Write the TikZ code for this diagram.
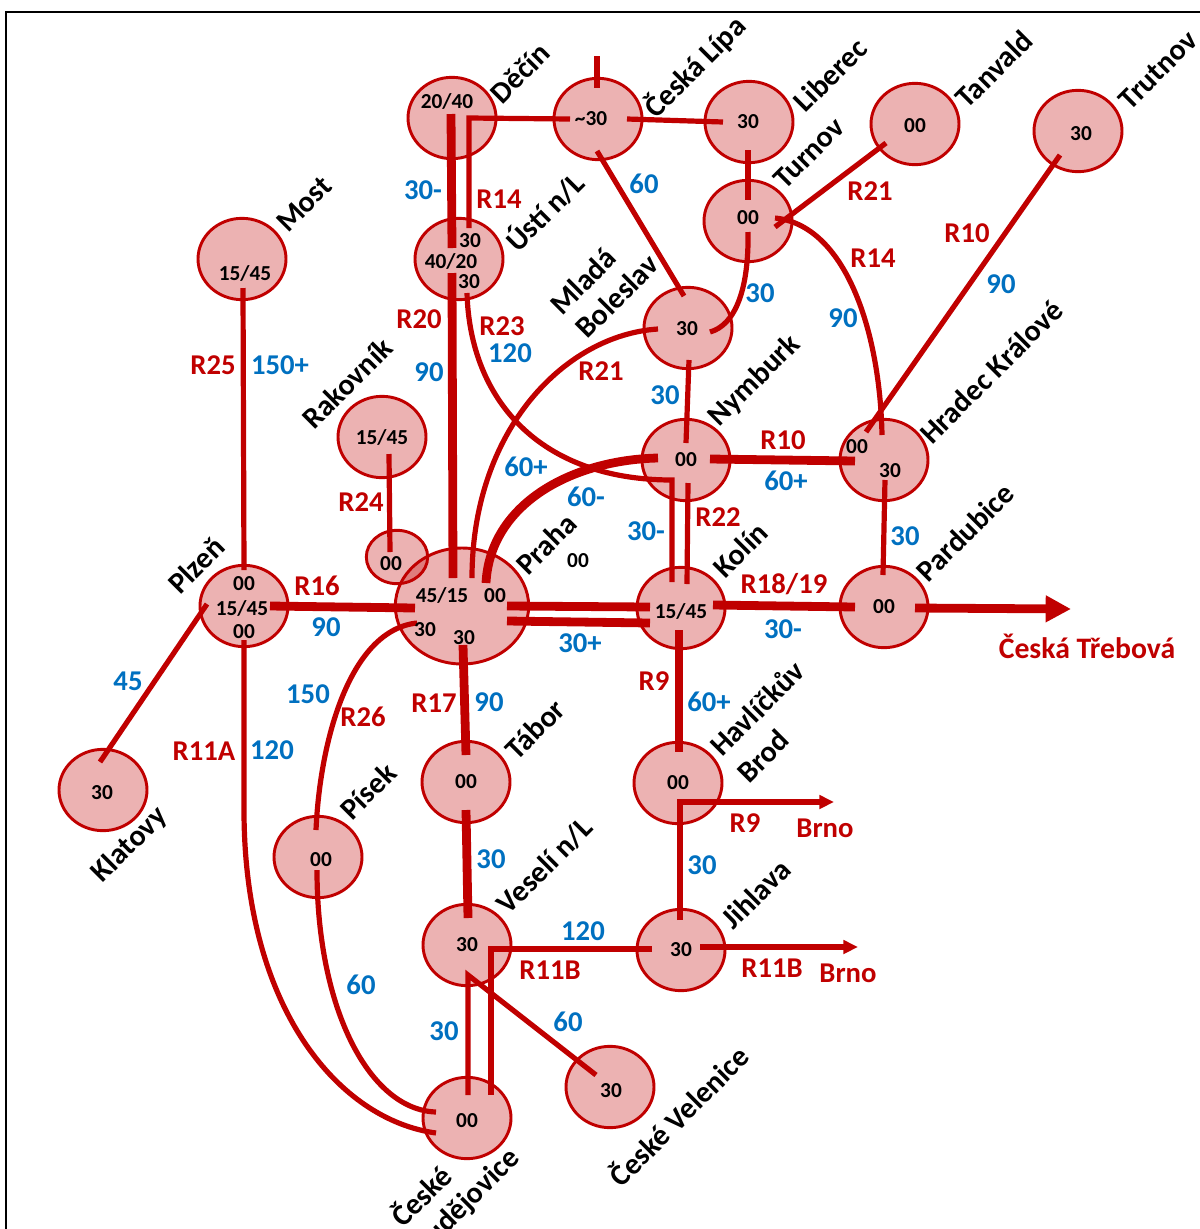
\documentclass[tikz,border=0pt]{standalone}
\usepackage{fontspec}
\setmainfont{Carlito}
\usetikzlibrary{shapes.geometric, arrows.meta}
\definecolor{railred}{HTML}{C00000}
\definecolor{railblue}{HTML}{0070C0}
\tikzset{
    stn/.style={draw=railred, line width=2.2pt, fill=railred, fill opacity=0.3, text opacity=1, ellipse, inner sep=0pt,
        minimum width=66pt, minimum height=61pt, font=\fontsize{16}{18}\bfseries},
    tm/.style={font=\fontsize{16}{18}\bfseries, inner sep=0pt},
    city/.style={rotate=45, font=\fontsize{22.5}{26}\bfseries, inner sep=0pt},
    route/.style={text=railred, font=\fontsize{21.5}{25}\bfseries, inner sep=0pt},
    freq/.style={text=railblue, font=\fontsize{21.5}{25}\bfseries, inner sep=0pt},
    thin line/.style={draw=railred, line width=3.9pt},
    thick line/.style={draw=railred, line width=6.6pt}
}
\begin{document}
\begin{tikzpicture}[x=0.75pt, y=-0.75pt]
    \useasboundingbox (0,0) rectangle (1200,1229);
    \coordinate (fbot) at (6,1229);
    \coordinate (fcor) at (6,12);
    \coordinate (fend) at (1200,12);
    \draw[line width=1.6pt] (fbot) -- (fcor) -- (fend);

    % Stations
    \node[stn] (De) at (452,118) {};
    \node[stn] (Cl) at (598,119) {};
    \node[stn] (Li) at (749,122) {};
    \node[stn] (Tu) at (748,221) {};
    \node[stn] (Ta) at (915,124) {};
    \node[stn] (Tr) at (1078,131) {};
    \node[stn] (Mo) at (242,259) {};
    \node[stn] (Us) at (459,259) {};
    \node[stn] (Mb) at (688,328) {};
    \node[stn] (Ra) at (382,437) {15/45};
    \node[stn] (Ny) at (686,460) {00};
    \node[stn] (Hk) at (884,460) {};
    \node[stn, minimum width=100pt, minimum height=87pt] (Pr) at (462,606) {};
    \node[stn, minimum width=46pt, minimum height=40pt] (Sm) at (397,557) {};
    \node[stn] (Pl) at (244,606) {};
    \node[stn] (Ko) at (681,608) {};
    \node[stn] (Pa) at (884,607) {00};
    \node[stn] (Kl) at (103,790) {};
    \node[stn] (Pi) at (318,857) {};
    \node[stn] (Tb) at (466,782) {00};
    \node[stn] (Hb) at (678,783) {00};
    \node[stn] (Ve) at (467,945) {30};
    \node[stn] (Ji) at (681,950) {30};
    \node[stn] (Cb) at (467,1118) {};
    \node[stn] (Cv) at (610,1087) {};

    % Free ends
    \coordinate (clTop) at (597,56);
    \coordinate (brnoA) at (834,802);
    \coordinate (brnoB) at (858,947);
    \coordinate (trebova) at (1071,609);

    % Thick lines
    \draw[thick line] ([shift={(-1,-4)}]De.center) -- ([shift={(-7,-11)}]Us.center);
    \draw[thick line] ([shift={(-7,14)}]Us.center) -- ([shift={(-9,-28)}]Pr.center);
    \draw[thick line] ([shift={(-28,-2)}]Ny.center) .. controls (570,460) and (490,505) .. ([shift={(24,-23)}]Pr.center);
    \draw[thick line] ([shift={(24,-1)}]Ny.center) -- ([shift={(-29,1)}]Hk.center);
    \draw[thick line] ([shift={(45,0)}]Pr.center) -- ([shift={(-31,-1)}]Ko.center);
    \draw[thick line] ([shift={(45,15)}]Pr.center) -- ([shift={(-31,15)}]Ko.center);
    \draw[thick line] ([shift={(26,0)}]Pl.center) -- ([shift={(-47,2)}]Pr.center);
    \draw[thick line] ([shift={(32,-3)}]Ko.center) -- ([shift={(-29,0)}]Pa.center);
    \draw[thick line, -{Triangle[length=19pt, width=19pt]}] ([shift={(31,1)}]Pa.center) -- (trebova);
    \draw[thick line] ([shift={(-2,22)}]Ko.center) -- ([shift={(1,-31)}]Hb.center);
    \draw[thick line] ([shift={(1,39)}]Pr.center) -- ([shift={(0,-27)}]Tb.center);
    \draw[thick line] ([shift={(0,28)}]Tb.center) -- ([shift={(1,-27)}]Ve.center);

    % Thin lines
    \draw[thin line] ([shift={(10,-31)}]Us.center) -- ([shift={(17,0)}]De.center) -- ([shift={(-28,0)}]Cl.center);
    \draw[thin line] ([shift={(29,0)}]Cl.center) -- ([shift={(-26,0)}]Li.center);
    \draw[thin line] (clTop) -- ([shift={(-1,-31)}]Cl.center);
    \draw[thin line] ([shift={(-1,32)}]Cl.center) -- ([shift={(-4,-32)}]Mb.center);
    \draw[thin line] ([shift={(-1,28)}]Li.center) -- ([shift={(0,-21)}]Tu.center);
    \draw[thin line] ([shift={(-29,19)}]Ta.center) -- ([shift={(27,6)}]Tu.center);
    \draw[thin line] ([shift={(0,11)}]Tu.center) .. controls (749,290) and (735,325) .. ([shift={(22,4)}]Mb.center);
    \draw[thin line] ([shift={(27,-3)}]Tu.center) .. controls (845,225) and (880,330) .. ([shift={(-2,-25)}]Hk.center);
    \draw[thin line] ([shift={(-18,24)}]Tr.center) -- ([shift={(-18,-28)}]Hk.center);
    \draw[thin line] ([shift={(1,32)}]Mb.center) -- ([shift={(0,-17)}]Ny.center);
    \draw[thin line] ([shift={(-30,1)}]Mb.center) .. controls (565,335) and (472,430) .. ([shift={(10,-28)}]Pr.center);
    \draw[thin line] ([shift={(8,34)}]Us.center) .. controls (470,400) and (540,480) .. ([shift={(-14,20)}]Ny.center) -- ([shift={(-9,-26)}]Ko.center);
    \draw[thin line] ([shift={(2,23)}]Ny.center) -- ([shift={(6,-24)}]Ko.center);
    \draw[thin line] ([shift={(1,20)}]Hk.center) -- ([shift={(-1,-32)}]Pa.center);
    \draw[thin line] ([shift={(1,29)}]Mo.center) -- ([shift={(0,-36)}]Pl.center);
    \draw[thin line] ([shift={(7,17)}]Ra.center) -- ([shift={(-7,-5)}]Sm.center);
    \draw[thin line] ([shift={(-37,-2)}]Pl.center) -- ([shift={(-3,-28)}]Kl.center);
    \draw[thin line] ([shift={(0,34)}]Pl.center) -- (244,810) .. controls (244,1010) and (340,1120) .. ([shift={(-31,15)}]Cb.center);
    \draw[thin line] ([shift={(-45,17)}]Pr.center) .. controls (350,630) and (320,740) .. ([shift={(-2,-27)}]Pi.center);
    \draw[thin line] ([shift={(-1,13)}]Pi.center) .. controls (317,1010) and (370,1110) .. ([shift={(-31,-6)}]Cb.center);
    \draw[thin line, -{Triangle[length=11pt, width=10pt]}] ([shift={(-1,-30)}]Ji.center) -- ([shift={(2,19)}]Hb.center) -- (brnoA);
    \draw[thin line, -{Triangle[length=11pt, width=10pt]}] ([shift={(19,-3)}]Ji.center) -- (brnoB);
    \draw[thin line] ([shift={(24,-23)}]Cb.center) -- ([shift={(24,4)}]Ve.center) -- ([shift={(-29,-1)}]Ji.center);
    \draw[thin line] ([shift={(1,-23)}]Cb.center) -- ([shift={(1,30)}]Ve.center) -- ([shift={(-14,-12)}]Cv.center);

    % Departure times
    \node[tm] (t1) at (447,101) {20/40};
    \node[tm] (t2) at (591,119) {\char`\~30};
    \node[tm] (t3) at (470,241) {30};
    \node[tm] (t4) at (451,261) {40/20};
    \node[tm] (t5) at (469,282) {30};
    \node[tm] (t6) at (245,273) {15/45};
    \node[tm] (t7) at (857,447) {00};
    \node[tm] (t8) at (890,471) {30};
    \node[tm] (t9) at (244,584) {00};
    \node[tm] (t10) at (242,608) {15/45};
    \node[tm] (t11) at (244,632) {00};
    \node[tm] (t12) at (442,595) {45/15};
    \node[tm] (t13) at (495,596) {00};
    \node[tm] (t14) at (425,630) {30};
    \node[tm] (t15) at (464,638) {30};
    \node[tm] (t16) at (681,611) {15/45};
    \node[tm] (t17) at (391,564) {00};
    \node[tm] (t18) at (578,561) {00};
    \node[tm] (t19) at (748,122) {30};
    \node[tm] (t20) at (748,218) {00};
    \node[tm] (t21) at (915,126) {00};
    \node[tm] (t22) at (1081,134) {30};
    \node[tm] (t23) at (687,329) {30};
    \node[tm] (t24) at (102,793) {30};
    \node[tm] (t25) at (321,860) {00};
    \node[tm] (t26) at (467,1121) {00};
    \node[tm] (t27) at (611,1091) {30};

    % City names
    \node[city] (nDe) at (520,73) {Děčín};
    \node[city] (nCl) at (695,67) {Česká Lípa};
    \node[city] (nLi) at (830,75) {Liberec};
    \node[city] (nTa) at (994,69) {Tanvald};
    \node[city] (nTr) at (1158,70) {Trutnov};
    \node[city] (nTu) at (809,153) {Turnov};
    \node[city] (nMo) at (304,204) {Most};
    \node[city] (nUs) at (544,211) {Ústí n/L};
    \node[city] (nMb) at (583,281) {Mladá};
    \node[city] (nMc) at (617,296) {Boleslav};
    \node[city] (nRa) at (347,383) {Rakovník};
    \node[city] (nNy) at (755,381) {Nymburk};
    \node[city] (nHk) at (991,372) {Hradec Králové};
    \node[city] (nPr) at (546,544) {Praha};
    \node[city] (nKo) at (740,550) {Kolín};
    \node[city] (nPa) at (965,532) {Pardubice};
    \node[city] (nPl) at (196,565) {Plzeň};
    \node[city] (nTb) at (535,729) {Tábor};
    \node[city] (nHb) at (757,708) {Havlíčkův};
    \node[city] (nHc) at (763,756) {Brod};
    \node[city] (nJi) at (756,894) {Jihlava};
    \node[city] (nVe) at (545,866) {Veselí n/L};
    \node[city] (nPi) at (368,791) {Písek};
    \node[city] (nKl) at (130,845) {Klatovy};
    \node[city] (nCb) at (420,1195) {České};
    \node[city] (nCc) at (467,1203) {Budějovice};
    \node[city] (nCv) at (678,1115) {České Velenice};

    % Route numbers and destinations
    \node[route] (r1) at (499,199) {R14};
    \node[route] (r2) at (419,319) {R20};
    \node[route] (r3) at (502,326) {R23};
    \node[route] (r4) at (213,365) {R25};
    \node[route] (r5) at (870,191) {R21};
    \node[route] (r6) at (601,371) {R21};
    \node[route] (r7) at (873,258) {R14};
    \node[route] (r8) at (967,233) {R10};
    \node[route] (r9) at (783,440) {R10};
    \node[route] (r10) at (361,502) {R24};
    \node[route] (r11) at (718,517) {R22};
    \node[route] (r12) at (317,586) {R16};
    \node[route] (r13) at (784,584) {R18/19};
    \node[route] (r14) at (654,681) {R9};
    \node[route] (r15) at (434,703) {R17};
    \node[route] (r16) at (363,717) {R26};
    \node[route] (r17) at (204,751) {R11A};
    \node[route] (r18) at (745,823) {R9};
    \node[route] (r19) at (550,970) {R11B};
    \node[route] (r20) at (772,968) {R11B};
    \node[route] (d1) at (825,828) {Brno};
    \node[route] (d2) at (848,973) {Brno};
    \node[route, font=\fontsize{22.3}{25}\bfseries] (d3) at (1087,646) {Česká Třebová};

    % Intervals
    \node[freq] (f1) at (423,190) {30-};
    \node[freq] (f2) at (644,184) {60};
    \node[freq] (f3) at (280,365) {150+};
    \node[freq] (f4) at (429,372) {90};
    \node[freq] (f5) at (510,353) {120};
    \node[freq] (f6) at (760,293) {30};
    \node[freq] (f7) at (843,318) {90};
    \node[freq] (f8) at (1001,284) {90};
    \node[freq] (f9) at (665,395) {30};
    \node[freq] (f10) at (526,467) {60+};
    \node[freq] (f11) at (586,497) {60-};
    \node[freq] (f12) at (786,481) {60+};
    \node[freq] (f13) at (646,531) {30-};
    \node[freq] (f14) at (905,536) {30};
    \node[freq] (f15) at (326,627) {90};
    \node[freq] (f16) at (580,643) {30+};
    \node[freq] (f17) at (783,629) {30-};
    \node[freq] (f18) at (308,694) {150};
    \node[freq] (f19) at (489,702) {90};
    \node[freq] (f20) at (709,702) {60+};
    \node[freq] (f21) at (128,681) {45};
    \node[freq] (f22) at (272,750) {120};
    \node[freq] (f23) at (491,859) {30};
    \node[freq] (f24) at (702,865) {30};
    \node[freq] (f25) at (583,931) {120};
    \node[freq] (f26) at (361,985) {60};
    \node[freq] (f27) at (568,1022) {60};
    \node[freq] (f28) at (444,1031) {30};
\end{tikzpicture}
\end{document}
